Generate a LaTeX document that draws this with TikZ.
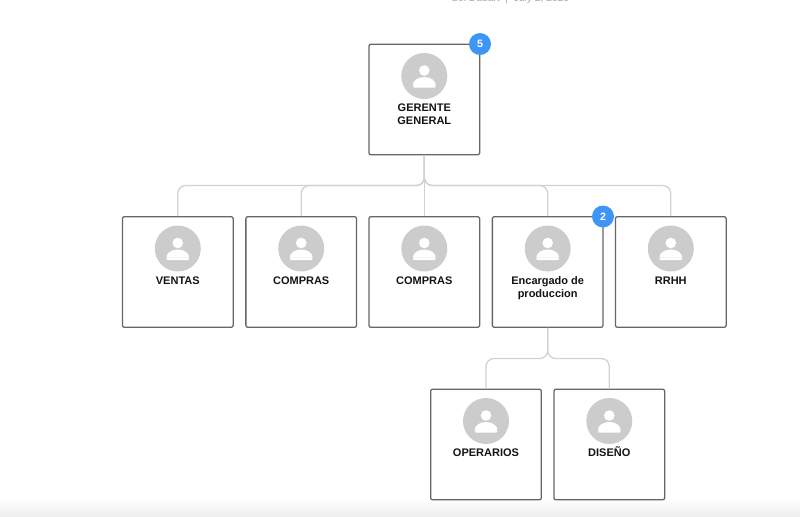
\documentclass[tikz,border=0pt]{standalone}
\usepackage{fontspec}
\setmainfont{Liberation Sans}
\usetikzlibrary{calc}
\definecolor{boxline}{HTML}{666666}
\definecolor{wire}{HTML}{D2D2D2}
\definecolor{avatar}{HTML}{CCCCCC}
\definecolor{badge}{HTML}{3D96F5}
\definecolor{capt}{HTML}{A8A8A8}
\tikzset{x=0.75pt,y=-0.75pt,
 card/.style={draw=boxline,line width=0.95pt,rounded corners=1.5pt,minimum width=83pt,minimum height=83pt,inner sep=0pt,fill=white},
 wirepath/.style={draw=wire,line width=1pt,rounded corners=6pt},
 wirestraight/.style={draw=wire,line width=1pt},
 face/.style={circle,fill=avatar,minimum size=34.5pt,inner sep=0pt},
 who/.style={font=\bfseries\fontsize{8.25}{9.75}\selectfont,align=center,text=black!92,anchor=north,inner sep=0pt},
 countbadge/.style={circle,fill=badge,minimum size=16.5pt,inner sep=0pt,text=white,font=\bfseries\fontsize{8}{8}\selectfont},
 captionline/.style={text=capt,font=\fontsize{7.7}{8}\selectfont,anchor=base west,inner sep=0pt}}
\newcommand{\personcard}[4]{%
 \node[card] (#1) at (#2,#3) {};
 \node[face] (#1f) at (#2,#3-23.5) {};
 \fill[white] (#2,#3-29) circle[radius=5.3];
 \fill[white,rounded corners=1pt] ($(#2,#3-23.5)+(-11.5,11.7)$) -- ++(0,-2.5) -- ++(23,0) -- ++(0,2.5) -- cycle;
 \fill[white] ($(#2,#3-23.5)+(-11.5,9.2)$) arc[start angle=180,end angle=360,x radius=11.5,y radius=8.2] -- cycle;
 \node[who] (#1t) at (#2,#3+1.5) {\rule{0pt}{8pt}#4};
}
\begin{document}
\begin{tikzpicture}
\useasboundingbox (0,0) rectangle (800,517);
\fill[white] (0,0) rectangle (800,517);
\shade[top color=white,bottom color=black!7] (0,498) rectangle (800,517);
\begin{scope}
\clip (0,0) rectangle (800,517);
\node[captionline] (caption) at (451,1.6) {Sol Dubart \ |\ \ July 2, 2020};
\end{scope}
% cards
\personcard{gg}{424.3}{99.5}{GERENTE\\GENERAL}
\personcard{ve}{177.8}{272}{VENTAS}
\personcard{c1}{301.2}{272}{COMPRAS}
\personcard{c2}{424.3}{272}{COMPRAS}
\personcard{ep}{547.7}{272}{Encargado de\\produccion}
\personcard{rh}{670.8}{272}{RRHH}
\personcard{op}{486}{444.5}{OPERARIOS}
\personcard{di}{609.3}{444.5}{DISEÑO}
% connectors
\coordinate (j1) at (424.3,185.5);
\coordinate (j2) at (547.7,358.5);
\draw[wirestraight] (gg.south) -- (c2.north);
\draw[wirepath] (gg.south) |- (ve.north |- j1) -- (ve.north);
\draw[wirepath] (gg.south) |- (c1.north |- j1) -- (c1.north);
\draw[wirepath] (gg.south) |- (ep.north |- j1) -- (ep.north);
\draw[wirepath] (gg.south) |- (rh.north |- j1) -- (rh.north);
\draw[wirepath] (ep.south) |- (op.north |- j2) -- (op.north);
\draw[wirepath] (ep.south) |- (di.north |- j2) -- (di.north);
% badges
\node[countbadge] (b5) at (480,44) {5};
\node[countbadge] (b2) at (603,216.5) {2};
\end{tikzpicture}
\end{document}
